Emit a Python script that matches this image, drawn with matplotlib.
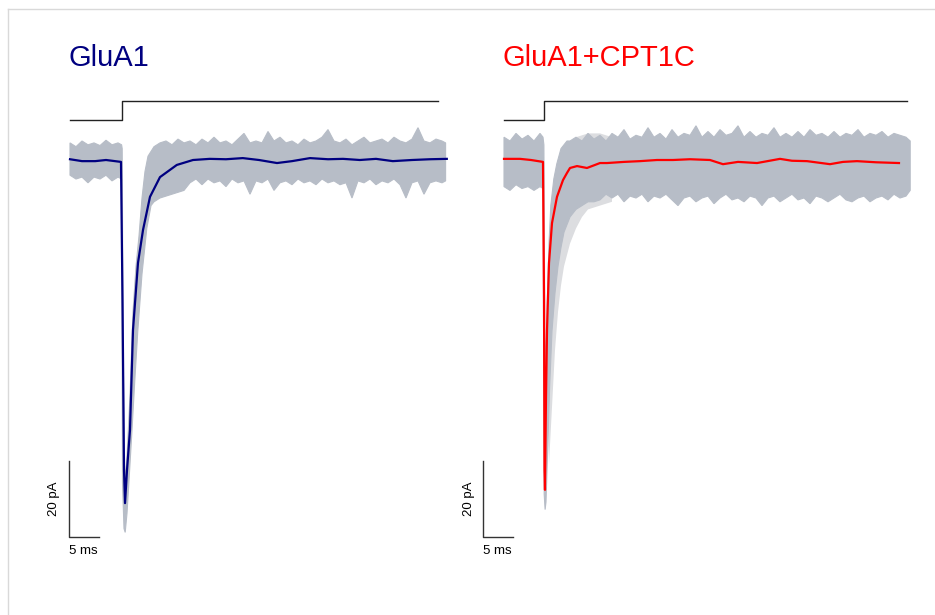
import matplotlib.pyplot as plt
import numpy as np
from matplotlib.lines import Line2D

plt.rcParams['font.family'] = ['Liberation Sans', 'DejaVu Sans']

W, H = 935, 615

# ---- GluA1: mean current (ms, pA)
glua1_t = [0, 2, 4.2, 6, 8.5, 8.75, 9.0, 9.17, 9.5, 10.0, 10.5, 11.33, 12.17, 13.33, 15, 17.8,
           20.5, 23.3, 26, 28.8, 31.5, 34.5, 37, 40, 43, 45.5, 48.3, 51, 53.8, 57, 60, 62.8]
glua1_i = [0.2, -0.3, -0.3, 0, -0.5, -36.8, -81.6, -90.3, -81.6, -71, -44.7, -27.1, -18.4, -9.7, -4.5, -1.3,
           0, 0.3, 0.2, 0.5, 0, -0.8, -0.3, 0.5, 0.2, 0.3, 0, 0.3, -0.3, 0, 0.2, 0.3]

# GluA1: spread of the single sweeps (upper / lower edge)
glua1_up_t = [0, 1, 2, 3, 4, 5, 6, 7, 8, 8.6, 8.7, 8.85, 9.1, 9.3, 9.6, 10, 10.5, 11, 11.5, 12, 12.5, 13,
              14, 15, 16, 17, 18, 19, 20, 21, 22, 23, 24, 25, 26, 27, 28, 29, 30, 31, 32, 33, 34, 35, 36,
              37, 38, 39, 40, 41, 42, 43, 44, 45, 46, 47, 48, 49, 50, 51, 52, 53, 54, 55, 56, 57, 58,
              59, 60, 61, 62, 62.6]
glua1_up = [4.5, 3.5, 5, 4, 4.5, 3.8, 5.2, 4, 4.5, 4, 3, -50, -80, -84, -75, -62, -40, -28, -20, -10, -3, 1,
            3.5, 4.5, 5, 4, 5.5, 4.5, 5, 4, 5.5, 4.5, 6, 4.5, 5, 4, 5.5, 7, 4.5, 5, 4.5, 7.5, 5, 6, 4.5,
            5, 4, 5.5, 4.5, 5, 6, 8, 5, 4.5, 5.5, 4, 5, 6, 4.5, 5, 5.5, 4.5, 6, 5, 4.5, 5.5, 8.5,
            5, 4.5, 5.5, 5, 4.5]
glua1_lo_t = [0, 1, 2, 3, 4, 5, 6, 7, 8, 8.6, 8.75, 9.0, 9.2, 9.5, 10, 10.3, 10.8, 11.3, 12, 12.8, 13.5,
              14, 15, 16, 17, 18, 19, 20, 21, 22, 23, 24, 25, 26, 27, 28, 29, 30, 31, 32, 33, 34, 35,
              36, 37, 38, 39, 40, 41, 42, 43, 44, 45, 46, 47, 48, 49, 50, 51, 52, 53, 54, 55, 56, 57,
              58, 59, 60, 61, 62, 62.6]
glua1_lo = [-4, -5, -4.5, -6, -4.5, -5, -4, -5.5, -4.5, -5, -85, -97, -98, -93, -80, -72, -58, -45, -30, -18, -12,
            -11, -10, -9.5, -9, -8.5, -8, -6, -5, -6.5, -5, -6, -5.5, -7, -5, -6, -5.5, -9, -5.5, -6, -5,
            -8, -6, -5.5, -6.5, -5, -6, -5.5, -6.5, -5, -6, -5.5, -6.5, -6, -10, -5.5, -6, -5, -6.5, -5.5,
            -6, -5, -6.5, -10, -6, -5.5, -9, -6, -5.5, -6, -5.5]

# ---- GluA1+CPT1C: mean current (ms, pA)
cpt_t = [0, 2.67, 4.5, 6.5, 6.67, 6.75, 6.83, 7.0, 7.17, 7.5, 8.0, 8.83, 9.83, 10.5, 11.0, 12.17, 13.83, 16,
         17.17, 20, 22.67, 25.5, 28.17, 31, 34.33, 36.5, 39, 42.17, 46, 48, 50.5, 54.33, 56.5, 58.83, 62, 65.83]
cpt_i = [0.3, 0.3, 0, -0.5, -36.8, -81.6, -86.8, -62.4, -44.7, -27.1, -16.6, -9.7, -5.3, -3.4, -2.1, -1.6, -2.1,
         -0.8, -0.8, -0.5, -0.3, 0, 0, 0.2, 0, -1.1, -0.5, -0.8, 0.3, -0.2, -0.3, -1.1, -0.5, -0.3, -0.6, -0.8]

cpt_up_t = [0, 1, 2, 3, 4, 5, 6, 6.5, 6.65, 6.8, 7.0, 7.2, 7.5, 7.8, 8.3, 8.8, 9.5, 10.5,
            11, 12, 13, 14, 15, 16, 17, 18, 19, 20, 21, 22, 23, 24, 25, 26, 27, 28, 29, 30, 31, 32,
            33, 34, 35, 36, 37, 38, 39, 40, 41, 42, 43, 44, 45, 46, 47, 48, 49, 50, 51, 52, 53, 54,
            55, 56, 57, 58, 59, 60, 61, 62, 63, 64, 65, 66, 67, 67.7]
cpt_up = [6, 5, 7, 5.5, 6.5, 5, 7, 6, 4, -45, -55, -38, -22, -12, -5, -1, 3, 5,
          5, 6, 5, 7, 5.5, 6.5, 5, 7, 6, 8, 5.5, 6.5, 6, 8.5, 6, 7, 5.5, 8, 6, 7, 6.5, 9,
          6, 7.5, 6, 8, 6.5, 7, 9, 6, 7.5, 6, 7, 6.5, 8.5, 6, 7, 6, 7.5, 6, 8, 6.5, 7, 6,
          7.5, 6, 7, 6.5, 8, 6, 7, 6.5, 7.5, 6, 7, 6.5, 6, 5]
cpt_lo_t = [0, 1, 2, 3, 4, 5, 6, 6.5, 6.7, 6.85, 7.0, 7.3, 7.6, 8.0, 8.5, 9, 9.5, 10, 11, 12, 13, 14, 15, 16,
            17, 18, 19, 20, 21, 22, 23, 24, 25, 26, 27, 28, 29, 30, 31, 32, 33, 34, 35, 36, 37, 38, 39,
            40, 41, 42, 43, 44, 45, 46, 47, 48, 49, 50, 51, 52, 53, 54, 55, 56, 57, 58, 59, 60, 61, 62,
            63, 64, 65, 66, 67, 67.7]
cpt_lo = [-7, -8, -6.5, -7.5, -7, -8, -7, -7.5, -88, -92, -90, -75, -60, -45, -35, -28, -23, -19, -15, -13, -12, -11, -11, -10.5,
          -9, -10, -9, -11, -9.5, -10, -9, -11, -9.5, -10, -9, -10.5, -12, -10, -9.5, -11, -10, -9.5, -11.5, -10, -9, -10.5, -10,
          -11, -9.5, -10, -12, -10, -9.5, -11, -10, -9, -10.5, -10, -11.5, -9.5, -10, -11, -10, -9, -10.5, -11, -10, -9.5, -11, -10,
          -9.5, -10.5, -9, -10, -9.5, -8]

# one slower sweep that shows as a lighter band during the decay
cpt_slow_t = [7.0, 8.0, 9.0, 10, 12, 14, 16, 18, 18, 16, 14, 13, 12, 11, 10, 9.5, 9, 8.5, 8, 7.5]
cpt_slow_i = [-50, -15, -2, 3, 6, 7, 7, 6, -11, -12, -13, -15, -18, -22, -28, -33, -40, -50, -65, -80]

# stimulus (solution exchange) step, drawn in the same units above the traces
stim_low, stim_high = 10.5, 15.5
glua1_stim_t = [0, 8.67, 8.67, 61.3]
cpt_stim_t = [0, 6.67, 6.67, 67.2]

bar_ms, bar_pa = 5, 20

gray = '#b7bdc7'
px_ms, px_pa = 6.0, 3.8  # pixels per ms / per pA in the reference


def make_axes(fig, t0_px, left_px, right_px):
    top_px, bottom_px, base_px = 75, 570, 160
    ax = fig.add_axes([left_px / W, 1 - bottom_px / H, (right_px - left_px) / W, (bottom_px - top_px) / H])
    ax.set_xlim((left_px - t0_px) / px_ms, (right_px - t0_px) / px_ms)
    ax.set_ylim((base_px - bottom_px) / px_pa, (base_px - top_px) / px_pa)
    ax.axis('off')
    return ax


def draw_panel(ax, t, i, up_t, up, lo_t, lo, stim_t, color, bar_x):
    poly_t = np.r_[up_t, lo_t[::-1]]
    poly_i = np.r_[up, lo[::-1]]
    ax.fill(poly_t, poly_i, color=gray, lw=0.8, ec=gray, zorder=2)
    ax.plot(t, i, color=color, lw=1.6, zorder=3)
    ax.plot(stim_t, [stim_low, stim_low, stim_high, stim_high], color='#222222', lw=1.0)
    y0 = -99.2
    ax.plot([bar_x, bar_x, bar_x + bar_ms], [y0 + bar_pa, y0, y0], color='#333333', lw=1.0, clip_on=False)
    ax.text(bar_x - 2.4, y0 + bar_pa / 2, f'{bar_pa} pA', rotation=90, ha='center', va='center', fontsize=9.5)
    ax.text(bar_x + 2.4, y0 - 3.6, f'{bar_ms} ms', ha='center', va='center', fontsize=9.5)


fig = plt.figure(figsize=(W / 100, H / 100), dpi=100)

ax1 = make_axes(fig, 70, 40, 470)
draw_panel(ax1, glua1_t, glua1_i, glua1_up_t, glua1_up, glua1_lo_t, glua1_lo, glua1_stim_t, '#000080', -0.2)

ax2 = make_axes(fig, 504, 474, 930)
ax2.fill(cpt_slow_t, cpt_slow_i, color='#dcdde0', lw=0, zorder=1)
draw_panel(ax2, cpt_t, cpt_i, cpt_up_t, cpt_up, cpt_lo_t, cpt_lo, cpt_stim_t, '#ff0000', -3.5)

fig.text(69 / W, 1 - 66 / H, 'GluA1', color='#000080', fontsize=21, va='baseline')
fig.text(503 / W, 1 - 66 / H, 'GluA1+CPT1C', color='#ff0000', fontsize=21, va='baseline')

# light frame at the top and left edge
fig.add_artist(Line2D([8 / W, 8 / W], [0, 1 - 9 / H], color='#d9d9d9', lw=1))
fig.add_artist(Line2D([8 / W, 1], [1 - 9 / H, 1 - 9 / H], color='#d9d9d9', lw=1))

fig.savefig('out.png', dpi=100)
